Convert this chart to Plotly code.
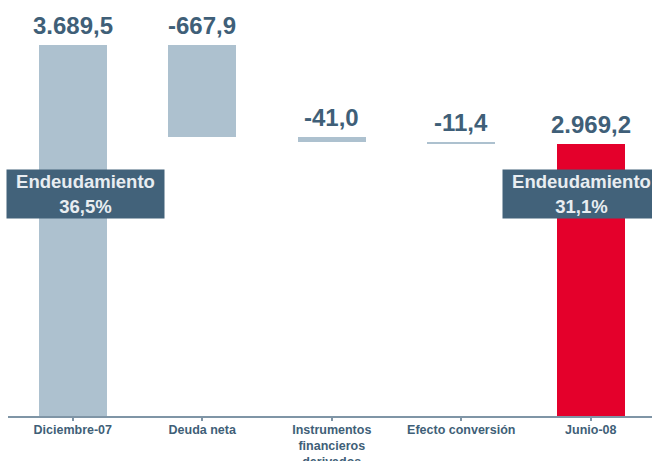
import plotly.graph_objects as go

categories = ["Diciembre-07", "Deuda neta", "Instrumentos<br>financieros<br>derivados",
              "Efecto conversión", "Junio-08"]
values = [3689.5, -667.9, -41.0, -11.4, 2969.2]
measures = ["absolute", "relative", "relative", "relative", "total"]
value_labels = ["3.689,5", "-667,9", "-41,0", "-11,4", "2.969,2"]
box_texts = ["Endeudamiento<br>36,5%", "Endeudamiento<br>31,1%"]
box_positions = [0, 4]
box_level = 2605

GREY = "#adc1cf"
RED = "#e4002b"
DARK = "#42627a"
TXT = "#3f5f78"

# compute bases (waterfall)
bases, heights, tops = [], [], []
running = 0.0
for v, m in zip(values, measures):
    if m == "relative":
        bases.append(running)
        heights.append(v)
        running += v
    else:
        bases.append(0)
        heights.append(v)
        running = v
    tops.append(max(bases[-1], bases[-1] + heights[-1]))

colors = [GREY, GREY, GREY, GREY, RED]

fig = go.Figure()
fig.add_trace(go.Bar(
    x=list(range(len(categories))), y=heights, base=bases,
    marker=dict(color=colors, line=dict(width=0)),
    width=0.525, hoverinfo="skip",
))

annotations = []
for i, (t, lab) in enumerate(zip(tops, value_labels)):
    annotations.append(dict(
        x=i, y=t, xref="x", yref="y", text=lab, showarrow=False,
        yanchor="bottom", yshift=4,
        font=dict(family="Liberation Sans, Arial", size=24, color=TXT, weight="bold"),
    ))
shifts = [12.5, -9]
for pos, txt, sh in zip(box_positions, box_texts, shifts):
    annotations.append(dict(
        x=pos, y=box_level, xref="x", yref="y", text=txt, showarrow=False,
        xshift=sh, bgcolor=DARK, width=157, height=48, borderpad=0,
        font=dict(family="Liberation Sans, Arial", size=18.5, color="#e8edf1", weight="bold"),
    ))

fig.update_layout(
    width=652, height=461,
    margin=dict(l=8, r=0, t=0, b=45, autoexpand=False),
    paper_bgcolor="white", plot_bgcolor="white",
    showlegend=False,
    annotations=annotations,
    bargap=0,
    xaxis=dict(
        range=[-0.5, 4.473], automargin=False,
        tickmode="array", tickvals=list(range(len(categories))), ticktext=categories,
        tickson="boundaries", ticks="outside", ticklen=3, tickcolor="#7f95a6", tickwidth=1.5,
        ticklabelstandoff=-2,
        showline=True, linecolor="#7f95a6", linewidth=1.5,
        showgrid=False, zeroline=False,
        tickfont=dict(family="Liberation Sans, Arial", size=12.5, color=TXT, weight="bold"),
        fixedrange=True,
    ),
    yaxis=dict(
        range=[990, 4017], visible=False, showgrid=False, zeroline=False, fixedrange=True,
        automargin=False,
    ),
)

fig.write_html("out.html", config={"displayModeBar": False},
               post_script="document.body.style.margin='0';document.body.style.overflow='hidden';")
